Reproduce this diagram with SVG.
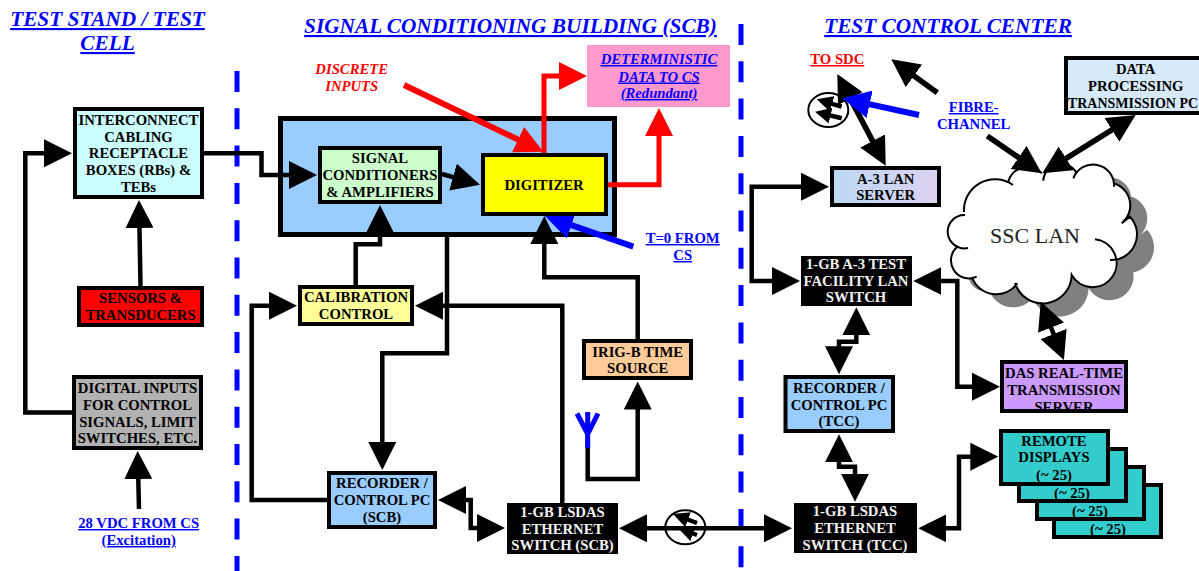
<svg xmlns="http://www.w3.org/2000/svg" width="1199" height="571" viewBox="0 0 1199 571">
<style>
text{font-family:"Liberation Serif","Times New Roman",serif;font-weight:bold;text-anchor:middle;font-size:14.7px;fill:#000}
.title{font-size:21.3px;font-style:italic;fill:#0000ff;text-decoration:underline;text-decoration-thickness:2.5px;text-underline-offset:2.5px}
.lnk{fill:#0000ff;text-decoration:underline;text-decoration-thickness:1.5px;text-underline-offset:2px}
.ital{font-style:italic}
.wt{fill:#f2f2f2}
.n{stroke:#000;stroke-width:4}
.k{fill:none;stroke:#000;stroke-width:4.5}
.kd{stroke-width:5.5}
.r{fill:none;stroke:#ff0000;stroke-width:5}
.b{fill:none;stroke:#0000ff;stroke-width:6}
.dash{fill:none;stroke:#0000ff;stroke-width:5;stroke-dasharray:21 16.3}
.ah{marker-end:url(#ak)}
.ah2{marker-start:url(#ak);marker-end:url(#ak)}
.ic{fill:#fff;stroke:#000;stroke-width:2}
.cl{fill:none;stroke:#000;stroke-width:2}
</style>
<defs>
<marker id="ak" markerUnits="userSpaceOnUse" markerWidth="28" markerHeight="28" refX="16" refY="14" orient="auto-start-reverse"><path d="M0,0L28,14L0,28Z" fill="#000"/></marker>
<marker id="ar" markerUnits="userSpaceOnUse" markerWidth="28" markerHeight="28" refX="16" refY="14" orient="auto"><path d="M0,0L28,14L0,28Z" fill="#ff0000"/></marker>
<marker id="ab" markerUnits="userSpaceOnUse" markerWidth="28" markerHeight="28" refX="16" refY="14" orient="auto"><path d="M0,0L28,14L0,28Z" fill="#0000ff"/></marker>
<marker id="as" markerUnits="userSpaceOnUse" markerWidth="16" markerHeight="16" refX="9" refY="8" orient="auto"><path d="M0,0L16,8L0,16Z" fill="#000"/></marker>
<linearGradient id="ga" x1="0" y1="0" x2="1" y2="0"><stop offset="0" stop-color="#bcd8f5"/><stop offset="1" stop-color="#dcd2f0"/></linearGradient>
<clipPath id="dc"><rect x="1002" y="362" width="124" height="48"/></clipPath>
<path id="cf" d="M1013,185A31,31 0 0 0 964,212L965,215A16.7,16.7 0 1 0 968,248L957,247A18,18 0 0 0 976.7,276.7L972,277A25.6,25.6 0 0 0 1017.3,283.3L1015,283A29,29 0 0 0 1071.7,275A24,24 0 1 0 1095,239.3L1110,260A25.7,25.7 0 0 0 1130,216.7L1121.7,223.3A22.9,22.9 0 0 0 1113.3,183.3L1114,186.7A21,21 0 0 0 1073.3,178.3L1076.7,173.3A17.7,17.7 0 0 0 1043.3,180.7L1041.7,173.3A19.8,19.8 0 0 0 1008.3,181.7Z"/>
</defs>

<g id="boundaries">
<path class="dash" d="M237,71V571"/>
<path class="dash" d="M741,24V571"/>
</g>

<g id="titles">
<text class="title" x="107.500" y="26">TEST STAND / TEST</text>
<text class="title" x="107.500" y="50">CELL</text>
<text class="title" x="510.500" y="33">SIGNAL CONDITIONING BUILDING (SCB)</text>
<text class="title" x="948" y="33">TEST CONTROL CENTER</text>
</g>

<g id="scb-enclosure"><rect x="280.500" y="118.500" width="334" height="116" fill="#99ccff" stroke="#000" stroke-width="5"/></g>

<g id="ssc-lan">
<use href="#cf" transform="translate(17,13)" fill="#808080"/>
<use href="#cf" fill="#fff"/>
<path class="cl" d="M1013,185A31,31 0 0 0 964,212M965,215A16.7,16.7 0 1 0 968,248M957,247A18,18 0 0 0 976.7,276.7M972,277A25.6,25.6 0 0 0 1017.3,283.3M1015,283A29,29 0 0 0 1071.7,275A24,24 0 1 0 1095,239.3M1110,260A25.7,25.7 0 0 0 1130,216.7L1121.7,223.3A22.9,22.9 0 0 0 1113.3,183.3M1114,186.7A21,21 0 0 0 1073.3,178.3M1076.7,173.3A17.7,17.7 0 0 0 1043.3,180.7M1041.7,173.3A19.8,19.8 0 0 0 1008.3,181.7"/>
<text x="1035" y="243" style="font-weight:normal;font-size:22px;fill:#222">SSC LAN</text>
</g>

<g id="fibre-icon-1"><ellipse class="ic" cx="685.300" cy="527.300" rx="20" ry="17"/>
<path class="k" marker-end="url(#as)" d="M697,523L679.600,516.500"/><path class="k" marker-end="url(#as)" d="M697,535L684.600,530.500"/></g>
<g id="fibre-icon-2"><ellipse class="ic" cx="828.300" cy="110" rx="20" ry="17"/>
<path class="k" marker-end="url(#as)" d="M841.700,106.700L823.400,101.300"/><path class="k" marker-end="url(#as)" d="M841.700,118.300L821.800,113.400"/></g>

<g id="connectors">
<path class="k ah" d="M72,412.500H25.300V153.300H60"/>
<path class="k ah" d="M204,153.300H261.500V175H305"/>
<path class="k ah" d="M140.500,286L139.200,212"/>
<path class="k ah" d="M139,509L137.900,463"/>
<path class="k ah" d="M355.700,285V244.300H380V217"/>
<path class="k ah" d="M442,174L468.400,181.400"/>
<path class="k ah" d="M447,237V353.300H382.300V458"/>
<path class="k ah" d="M562.300,503V305.700H427"/>
<path class="k ah" d="M327,500H251.700V305.700H285"/>
<path class="k ah" d="M637.700,339V277.300H544.300V228"/>
<path class="k ah" d="M587.700,433V479H637.700V393.500"/>
<path class="k ah2" d="M450,500H470.700V528H493"/>
<path class="k ah2" d="M631,528.300H780"/>
<path class="k ah2" d="M817,186.700H751.700V281H788"/>
<path class="k ah2" d="M925.300,281H957.300V386.700H988"/>
<path class="k ah2" d="M856.300,319.300V341.700H839V362.300"/>
<path class="k ah2" d="M839,446.300V466.700H855V489.700"/>
<path class="k ah2" d="M930.300,528.300H959V456.700H986.300"/>
<path class="k kd ah2" d="M842.900,84.600L880.100,155.100"/>
<path class="k kd ah" d="M937.300,92.700L901,66.400"/>
<path class="k kd ah" d="M987.300,136L1031.800,166.500"/>
<path class="k kd ah2" d="M1052.500,166.900L1125.500,121.400"/>
<path class="k ah2" d="M1045.200,312.800L1059.500,348.900"/>
<path class="r" marker-end="url(#ar)" style="stroke-width:6" d="M404,85L532.500,146.500"/>
<path class="r" marker-end="url(#ar)" d="M544,153V76H575"/>
<path class="r" marker-end="url(#ar)" d="M608,184.700H659V120"/>
<path class="b" marker-end="url(#ab)" d="M633.300,246.700L556.300,219.900"/>
<path class="b" marker-end="url(#ab)" d="M919,115L854,100.900"/>
<path class="b" style="stroke-width:5" d="M587.700,448V434M577,413.500L587.700,434L598,413.500M587.700,434V412"/>
</g>

<g id="interconnect"><rect class="n" x="75" y="109" width="127" height="88" fill="#ccffff"/>
<text x="138.500" y="125">INTERCONNECT</text><text x="138.500" y="142">CABLING</text><text x="138.500" y="158">RECEPTACLE</text><text x="138.500" y="175">BOXES (RBs) &amp;</text><text x="138.500" y="192">TEBs</text></g>
<g id="sensors"><rect class="n" x="79" y="288" width="123" height="37" fill="#ff0000"/>
<text x="140.500" y="303">SENSORS &amp;</text><text x="140.500" y="320">TRANSDUCERS</text></g>
<g id="digital-inputs"><rect class="n" x="74" y="377" width="127" height="71" fill="#b2b2b2"/>
<text x="137.500" y="393">DIGITAL INPUTS</text><text x="137.500" y="410">FOR CONTROL</text><text x="137.500" y="427">SIGNALS, LIMIT</text><text x="137.500" y="443">SWITCHES, ETC.</text></g>
<g id="signal-conditioners"><rect class="n" x="320" y="148" width="120" height="54" fill="#ccffcc"/>
<text x="380" y="163">SIGNAL</text><text x="380" y="180">CONDITIONERS</text><text x="380" y="197">&amp; AMPLIFIERS</text></g>
<g id="digitizer"><rect class="n" x="483" y="155" width="123" height="59" fill="#ffff00"/>
<text x="544" y="190">DIGITIZER</text></g>
<g id="calibration"><rect class="n" x="300" y="287" width="112" height="37" fill="#ffff99"/>
<text x="356" y="302">CALIBRATION</text><text x="356" y="319">CONTROL</text></g>
<g id="recorder-scb"><rect class="n" x="329" y="473" width="106" height="54" fill="#99ccff"/>
<text x="382" y="488">RECORDER /</text><text x="382" y="505">CONTROL PC</text><text x="382" y="522">(SCB)</text></g>
<g id="switch-scb"><rect x="507" y="503" width="111" height="51" fill="#000"/>
<text class="wt" x="562.500" y="517">1-GB LSDAS</text><text class="wt" x="562.500" y="533.500">ETHERNET</text><text class="wt" x="562.500" y="550">SWITCH (SCB)</text></g>
<g id="irig"><rect class="n" x="584" y="341" width="107" height="37" fill="#ffcc99"/>
<text x="637.700" y="357">IRIG-B TIME</text><text x="637.700" y="373">SOURCE</text></g>
<g id="deterministic"><rect x="587" y="45" width="143" height="62" fill="#ff99cc"/>
<text class="lnk ital" x="659" y="64">DETERMINISTIC</text><text class="lnk ital" x="659" y="81.500">DATA TO CS</text><text class="lnk ital" x="659" y="98">(Redundant)</text></g>
<g id="a3-lan-server"><rect class="n" x="832" y="168" width="107" height="37" fill="url(#ga)"/>
<text x="885.700" y="184">A-3 LAN</text><text x="885.700" y="200">SERVER</text></g>
<g id="data-processing"><rect class="n" x="1066" y="58" width="150" height="55" fill="#d6e9f8"/>
<text x="1135.700" y="74">DATA</text><text x="1135.700" y="91">PROCESSING</text><text x="1133" y="108" style="font-size:14px">TRANSMISSION PC</text></g>
<g id="switch-a3"><rect x="801" y="256" width="111" height="50" fill="#000"/>
<text class="wt" x="856" y="269">1-GB A-3 TEST</text><text class="wt" x="856" y="285.700">FACILITY LAN</text><text class="wt" x="856" y="302">SWITCH</text></g>
<g id="recorder-tcc"><rect class="n" x="785.500" y="377" width="107.500" height="54" fill="#99ccff"/>
<text x="839" y="393">RECORDER /</text><text x="839" y="410">CONTROL PC</text><text x="839" y="426">(TCC)</text></g>
<g id="switch-tcc"><rect x="794" y="503" width="123" height="50" fill="#000"/>
<text class="wt" x="855" y="516">1-GB LSDAS</text><text class="wt" x="855" y="533">ETHERNET</text><text class="wt" x="855" y="550">SWITCH (TCC)</text></g>
<g id="das-server"><rect class="n" x="1002" y="362" width="124" height="49" fill="#cc99ff"/>
<g clip-path="url(#dc)"><text x="1064" y="378">DAS REAL-TIME</text><text x="1064" y="395">TRANSMISSION</text><text x="1064" y="412">SERVER</text></g></g>
<g id="remote-displays">
<rect class="n" x="1054" y="485" width="107" height="52" fill="#33cccc"/><text x="1108" y="534">(~ 25)</text>
<rect class="n" x="1037" y="467" width="107" height="52" fill="#33cccc"/><text x="1090" y="516">(~ 25)</text>
<rect class="n" x="1019" y="449" width="107" height="52" fill="#33cccc"/><text x="1072" y="498">(~ 25)</text>
<rect class="n" x="1001" y="431" width="107" height="53" fill="#33cccc"/><text x="1054" y="446">REMOTE</text><text x="1054" y="462">DISPLAYS</text><text x="1054" y="480">(~ 25)</text>
</g>

<g id="labels">
<text class="ital" x="351.700" y="74" style="fill:#ff0000">DISCRETE</text><text class="ital" x="351.700" y="91" style="fill:#ff0000">INPUTS</text>
<text class="lnk" x="682.700" y="243">T=0 FROM</text><text class="lnk" x="682.700" y="260">CS</text>
<text class="lnk" x="138.700" y="528">28 VDC FROM CS</text><text class="lnk" x="138.700" y="545">(Excitation)</text>
<text x="837.300" y="64" style="fill:#ff0000;text-decoration:underline;text-decoration-thickness:1.5px;text-underline-offset:2px">TO SDC</text>
<text class="lnk" x="973.700" y="112">FIBRE-</text><text x="973.700" y="129" style="fill:#0000ff">CHANNEL</text>
</g>
</svg>
